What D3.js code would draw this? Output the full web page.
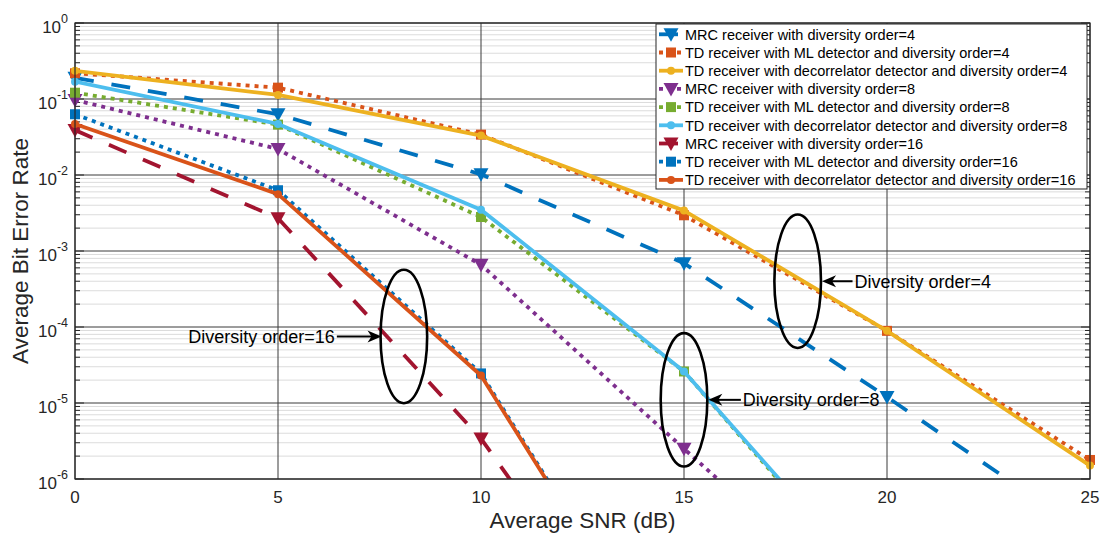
<!DOCTYPE html>
<html>
<head>
<meta charset="utf-8">
<script src="https://cdn.jsdelivr.net/npm/d3@7"></script>
<style>
  html, body { margin: 0; padding: 0; background: #fff; }
  svg { display: block; font-family: "Liberation Sans", Arial, Helvetica, sans-serif; }
</style>
</head>
<body>
<svg id="chart" width="1101" height="533"></svg>
<script>
// SNR sample points (dB)
const snr = [0, 5, 10, 15, 20, 25];

// Average BER per receiver; null = not simulated
const mrc4    = [0.19, 0.063, 0.0102, 6.9e-4, 1.2e-5, 1.8e-7];
const tdMl4   = [0.218, 0.141, 0.034, 2.95e-3, 8.9e-5, 1.78e-6];
const tdDec4  = [0.235, 0.113, 0.033, 3.4e-3, 8.9e-5, 1.5e-6];
const mrc8    = [0.097, 0.022, 6.6e-4, 2.5e-6, 1e-8, null];
const tdMl8   = [0.121, 0.046, 2.8e-3, 2.6e-5, 2.2e-8, null];
const tdDec8  = [0.169, 0.047, 3.5e-3, 2.6e-5, 2.5e-8, null];
const mrc16   = [0.039, 0.0027, 3.4e-6, 6e-10, null, null];
const tdMl16  = [0.063, 0.0063, 2.45e-5, 1.3e-9, null, null];
const tdDec16 = [0.047, 0.0056, 2.3e-5, 1.25e-9, null, null];

const seriesNames = [
  "MRC receiver with diversity order=4",
  "TD receiver with ML detector and diversity order=4",
  "TD receiver with decorrelator detector and diversity order=4",
  "MRC receiver with diversity order=8",
  "TD receiver with ML detector and diversity order=8",
  "TD receiver with decorrelator detector and diversity order=8",
  "MRC receiver with diversity order=16",
  "TD receiver with ML detector and diversity order=16",
  "TD receiver with decorrelator detector and diversity order=16"
];
const seriesValues = [mrc4, tdMl4, tdDec4, mrc8, tdMl8, tdDec8, mrc16, tdMl16, tdDec16];
// line style per series: "--" dashed, ":" dotted, "-" solid
const lineStyles = ["--", ":", "-", ":", ":", "-", "--", ":", "-"];
const markerKinds = ["tri", "square", "dot", "tri", "square", "dot", "tri", "square", "dot"];

const xTicks = [0, 5, 10, 15, 20, 25];
const yTickExponents = [0, -1, -2, -3, -4, -5, -6];

const annotations = [
  { text: "Diversity order=4",  cx: 17.8, cy: 4.0e-4, tipSnr: 18.4, textSnr: 19.2, dir: -1 },
  { text: "Diversity order=8",  cx: 15.0, cy: 1.1e-5, tipSnr: 15.6, textSnr: 16.45, dir: -1 },
  { text: "Diversity order=16", cx: 8.1,  cy: 7.5e-5, tipSnr: 7.55, textSnr: 6.4, dir: 1 }
];

// MATLAB default colour order
const palette = ["#0072BD", "#D95319", "#EDB120", "#7E2F8E", "#77AC30", "#4DBEEE", "#A2142F"];
const dashFor = { "--": "19,18", ":": "4,5", "-": null };

const styles = seriesNames.map((name, i) => ({
  color: palette[i % palette.length],
  dash: dashFor[lineStyles[i]],
  marker: markerKinds[i]
}));

const svg = d3.select("#chart");
const axL = 75, axR = 1090, axT = 23, axB = 479;

const x = d3.scaleLinear().domain([0, 25]).range([axL, axR]);
const y = d3.scaleLog().domain([1e-6, 1]).range([axB, axT]);

svg.append("defs").append("clipPath").attr("id", "plotClip")
  .append("rect").attr("x", axL).attr("y", axT)
  .attr("width", axR - axL).attr("height", axB - axT);

// Grid: minor decades first, then major
const minorVals = [];
for (let e = -6; e < 0; e++) for (let m = 2; m <= 9; m++) minorVals.push(m * Math.pow(10, e));
const grid = svg.append("g");
grid.selectAll("line.minor").data(minorVals).join("line")
  .attr("x1", axL).attr("x2", axR)
  .attr("y1", d => y(d)).attr("y2", d => y(d))
  .attr("stroke", "#dcdcdc").attr("stroke-width", 1);
grid.append("g").selectAll("line").data(yTickExponents).join("line")
  .attr("x1", axL).attr("x2", axR)
  .attr("y1", d => y(Math.pow(10, d))).attr("y2", d => y(Math.pow(10, d)))
  .attr("stroke", "#3a3a3a").attr("stroke-width", 1);
grid.append("g").selectAll("line").data(xTicks).join("line")
  .attr("x1", d => x(d)).attr("x2", d => x(d))
  .attr("y1", axT).attr("y2", axB)
  .attr("stroke", "#3a3a3a").attr("stroke-width", 1);

// Tick marks (inside, both sides)
const ticks = svg.append("g").attr("stroke", "#262626").attr("stroke-width", 1);
minorVals.forEach(v => {
  ticks.append("line").attr("x1", axL).attr("x2", axL + 5).attr("y1", y(v)).attr("y2", y(v));
  ticks.append("line").attr("x1", axR).attr("x2", axR - 5).attr("y1", y(v)).attr("y2", y(v));
});
yTickExponents.forEach(e => {
  ticks.append("line").attr("x1", axL).attr("x2", axL + 9).attr("y1", y(Math.pow(10, e))).attr("y2", y(Math.pow(10, e)));
  ticks.append("line").attr("x1", axR).attr("x2", axR - 9).attr("y1", y(Math.pow(10, e))).attr("y2", y(Math.pow(10, e)));
});

// Series lines and markers
const lineGen = d3.line()
  .defined(d => d.v != null)
  .x(d => x(d.s)).y(d => y(d.v));

const plot = svg.append("g");
function drawMarker(g, kind, cx, cy, color) {
  if (kind === "tri") {
    g.append("path")
      .attr("d", `M${cx - 7.5},${cy - 6} L${cx + 7.5},${cy - 6} L${cx},${cy + 7.5} Z`)
      .attr("fill", color);
  } else if (kind === "square") {
    g.append("rect").attr("x", cx - 5).attr("y", cy - 5).attr("width", 10).attr("height", 10)
      .attr("fill", color);
  } else {
    g.append("circle").attr("cx", cx).attr("cy", cy).attr("r", 4).attr("fill", color);
  }
}

seriesValues.forEach((vals, i) => {
  const st = styles[i];
  const pts = snr.map((s, k) => ({ s, v: vals[k] }));
  plot.append("path")
    .attr("d", lineGen(pts))
    .attr("clip-path", "url(#plotClip)")
    .attr("fill", "none")
    .attr("stroke", st.color)
    .attr("stroke-width", 3.8)
    .attr("stroke-linejoin", "round")
    .attr("stroke-dasharray", st.dash);
  const mg = plot.append("g");
  pts.filter(p => p.v != null && p.v >= 1e-6 && p.v <= 1)
    .forEach(p => drawMarker(mg, st.marker, x(p.s), y(p.v), st.color));
});

// Axes box
svg.append("rect").attr("x", axL).attr("y", axT)
  .attr("width", axR - axL).attr("height", axB - axT)
  .attr("fill", "none").attr("stroke", "#262626").attr("stroke-width", 1.2);

// Tick labels
svg.append("g").selectAll("text").data(xTicks).join("text")
  .attr("x", d => x(d)).attr("y", 503)
  .attr("text-anchor", "middle").attr("font-size", 17).attr("fill", "#262626")
  .text(d => d);

const yl = svg.append("g");
yTickExponents.forEach(e => {
  const t = yl.append("text")
    .attr("x", 68).attr("y", y(Math.pow(10, e)) + 10)
    .attr("text-anchor", "end").attr("font-size", 17).attr("fill", "#262626");
  t.append("tspan").text("10");
  t.append("tspan").attr("dy", -10).attr("font-size", 12.5).text(e === 0 ? "0" : "-" + Math.abs(e));
});

// Axis titles
svg.append("text").attr("x", (axL + axR) / 2).attr("y", 528)
  .attr("text-anchor", "middle").attr("font-size", 22.5).attr("fill", "#262626")
  .text("Average SNR (dB)");
svg.append("text")
  .attr("transform", `translate(28,${(axT + axB) / 2}) rotate(-90)`)
  .attr("text-anchor", "middle").attr("font-size", 22.5).attr("fill", "#262626")
  .text("Average Bit Error Rate");

// Annotations: ellipses, arrows, labels
const ann = svg.append("g");
annotations.forEach(a => {
  const cx = x(a.cx), cy = y(a.cy);
  ann.append("ellipse").attr("cx", cx).attr("cy", cy).attr("rx", 23.3).attr("ry", 66.7)
    .attr("fill", "none").attr("stroke", "#000").attr("stroke-width", 2.6);
  const tipX = x(a.tipSnr), textX = x(a.textSnr);
  if (a.dir < 0) {
    ann.append("line").attr("x1", tipX + 8).attr("x2", textX - 2).attr("y1", cy).attr("y2", cy)
      .attr("stroke", "#000").attr("stroke-width", 2);
    ann.append("path").attr("d", `M${tipX},${cy} L${tipX + 14},${cy - 6} L${tipX + 10},${cy} L${tipX + 14},${cy + 6} Z`)
      .attr("fill", "#000");
    ann.append("text").attr("x", textX).attr("y", cy + 6.5).attr("font-size", 18).attr("fill", "#000")
      .text(a.text);
  } else {
    ann.append("text").attr("x", textX).attr("y", cy + 6.5)
      .attr("text-anchor", "end").attr("font-size", 18).attr("fill", "#000").text(a.text);
    ann.append("line").attr("x1", textX + 2).attr("x2", tipX - 8).attr("y1", cy).attr("y2", cy)
      .attr("stroke", "#000").attr("stroke-width", 2);
    ann.append("path").attr("d", `M${tipX},${cy} L${tipX - 14},${cy - 6} L${tipX - 10},${cy} L${tipX - 14},${cy + 6} Z`)
      .attr("fill", "#000");
  }
});

// Legend
const lg = svg.append("g");
const lgX = 656, lgY = 24, lgW = 431, lgH = 165, rowH = 18.2;
lg.append("rect").attr("x", lgX).attr("y", lgY).attr("width", lgW).attr("height", lgH)
  .attr("fill", "#fff").attr("stroke", "#262626").attr("stroke-width", 1);
seriesNames.forEach((name, i) => {
  const st = styles[i];
  const ry = lgY + 10.3 + i * rowH;
  lg.append("line").attr("x1", 659).attr("x2", 683).attr("y1", ry).attr("y2", ry)
    .attr("stroke", st.color).attr("stroke-width", 3.8)
    .attr("stroke-dasharray", st.dash);
  drawMarker(lg, st.marker, 671, ry, st.color);
  lg.append("text").attr("x", 685).attr("y", ry + 5.2)
    .attr("font-size", 14.5).attr("fill", "#000").text(name);
});
</script>
</body>
</html>
